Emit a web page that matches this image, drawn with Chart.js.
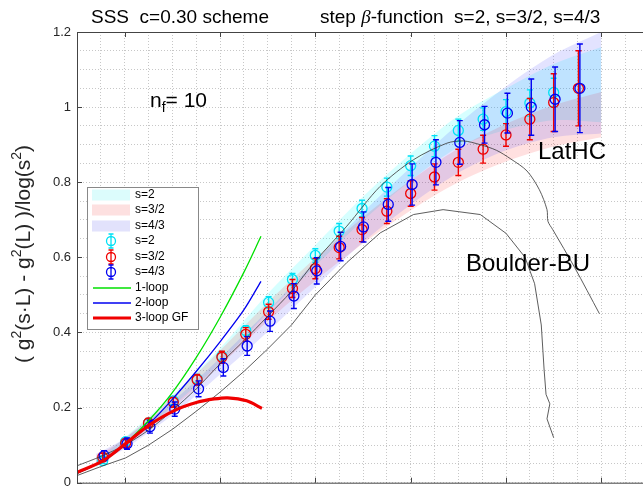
<!DOCTYPE html>
<html lang="en">
<head>
<meta charset="utf-8">
<title>SSS step beta-function</title>
<script src="https://cdn.jsdelivr.net/npm/chart.js@4/dist/chart.umd.min.js"></script>
<style>
  body { margin: 0; overflow: hidden; background: #fff; }
  #wrap { position: absolute; left: 0; top: 0; width: 660px; height: 489px; }
</style>
</head>
<body>
<div id="wrap"><canvas id="stepChart" width="660" height="489"></canvas></div>

<script>
  // g^2(L) where the step function was measured
  var gsqL   = [0.77, 1.01, 1.25, 1.51, 1.76, 2.02, 2.27, 2.51, 2.76, 3.0, 3.25, 3.49, 3.75, 4.0, 4.25, 4.5, 4.76, 5.0, 5.25, 5.5, 5.76];
  var gsqL43 = [0.785, 1.025, 1.265, 1.525, 1.775, 2.035, 2.285, 2.525, 2.775, 3.015, 3.265, 3.505, 3.765, 4.015, 4.265, 4.515, 4.775, 5.015, 5.265, 5.515, 5.775];

  // step beta-function, s=2 / s=3/2 / s=4/3, with errors
  var stepS2  = [0.059, 0.109, 0.159, 0.218, 0.276, 0.337, 0.405, 0.48, 0.541, 0.605, 0.67, 0.73, 0.787, 0.844, 0.896, 0.938, 0.968, 0.988, 1.011, 1.039];
  var errS2   = [0.008, 0.008, 0.009, 0.01, 0.011, 0.012, 0.013, 0.015, 0.016, 0.018, 0.02, 0.022, 0.024, 0.026, 0.028, 0.03, 0.03, 0.032, 0.035, 0.038];
  var stepS32 = [0.068, 0.105, 0.159, 0.214, 0.274, 0.334, 0.395, 0.455, 0.517, 0.57, 0.626, 0.674, 0.723, 0.77, 0.814, 0.853, 0.888, 0.926, 0.968, 1.012, 1.05];
  var errS32  = [0.01, 0.011, 0.012, 0.013, 0.014, 0.016, 0.018, 0.02, 0.024, 0.027, 0.03, 0.032, 0.033, 0.034, 0.035, 0.035, 0.037, 0.03, 0.055, 0.077, 0.1];
  var stepS43 = [0.072, 0.104, 0.149, 0.196, 0.25, 0.307, 0.364, 0.43, 0.497, 0.564, 0.629, 0.681, 0.741, 0.794, 0.853, 0.906, 0.953, 0.984, 1.0, 1.021, 1.05];
  var errS43  = [0.013, 0.015, 0.017, 0.019, 0.021, 0.023, 0.025, 0.027, 0.033, 0.035, 0.038, 0.04, 0.045, 0.055, 0.06, 0.058, 0.049, 0.053, 0.075, 0.086, 0.118];

  // LatHC fit bands
  var bandX     = [0.7, 1.0, 1.5, 2.0, 2.5, 3.0, 3.5, 4.0, 4.5, 5.0, 5.5, 6.0];
  var bandS2Lo  = [0.04, 0.096, 0.203, 0.318, 0.453, 0.577, 0.698, 0.804, 0.893, 0.94, 0.965, 0.96];
  var bandS2Hi  = [0.06, 0.12, 0.233, 0.358, 0.503, 0.633, 0.762, 0.876, 0.977, 1.05, 1.115, 1.16];
  var bandS32Lo = [0.05, 0.094, 0.197, 0.312, 0.43, 0.538, 0.637, 0.725, 0.8, 0.855, 0.895, 0.92];
  var bandS32Hi = [0.07, 0.118, 0.229, 0.352, 0.48, 0.598, 0.707, 0.805, 0.89, 0.955, 1.005, 1.04];
  var bandS43Lo = [0.053, 0.09, 0.18, 0.288, 0.402, 0.521, 0.64, 0.74, 0.825, 0.885, 0.92, 0.93];
  var bandS43Hi = [0.077, 0.118, 0.216, 0.332, 0.458, 0.589, 0.72, 0.84, 0.955, 1.055, 1.14, 1.2];

  // perturbative curves
  var loop1X = [0.5, 0.75, 1.0, 1.25, 1.5, 1.75, 2.0, 2.25, 2.43];
  var loop1Y = [0.025, 0.056, 0.103, 0.165, 0.24, 0.333, 0.44, 0.56, 0.656];
  var loop2X = [0.5, 0.75, 1.0, 1.25, 1.5, 1.75, 2.0, 2.25, 2.43];
  var loop2Y = [0.025, 0.055, 0.1, 0.155, 0.222, 0.296, 0.375, 0.46, 0.536];
  var loop3X = [0.5, 0.77, 1.01, 1.25, 1.52, 1.76, 1.94, 2.08, 2.28, 2.44];
  var loop3Y = [0.027, 0.058, 0.104, 0.152, 0.192, 0.214, 0.223, 0.226, 0.218, 0.198];

  // Boulder-BU curves
  var bouUpX = [0.5, 0.75, 1.0, 1.25, 1.5, 1.75, 2.0, 2.25, 2.5, 2.75, 3.0, 3.33, 3.68, 4.03, 4.38, 4.55, 4.73, 4.9, 5.05, 5.22, 5.35, 5.43, 5.44, 5.49, 5.72, 5.98];
  var bouUpY = [0.045, 0.07, 0.1, 0.14, 0.192, 0.25, 0.316, 0.378, 0.443, 0.51, 0.59, 0.683, 0.789, 0.86, 0.904, 0.91, 0.9, 0.885, 0.862, 0.83, 0.78, 0.727, 0.696, 0.674, 0.573, 0.45];
  var bouLoX = [0.5, 0.75, 1.01, 1.25, 1.5, 1.75, 2.0, 2.25, 2.5, 2.75, 3.0, 3.33, 3.68, 4.03, 4.34, 4.73, 5.0, 5.2, 5.3, 5.37, 5.4, 5.42, 5.46, 5.43, 5.5];
  var bouLoY = [0.019, 0.043, 0.066, 0.1, 0.142, 0.19, 0.241, 0.296, 0.356, 0.42, 0.5, 0.586, 0.665, 0.714, 0.727, 0.714, 0.664, 0.6, 0.53, 0.42, 0.3, 0.235, 0.21, 0.17, 0.12];

  // axes
  var yTickVals   = [0, 0.2, 0.4, 0.6, 0.8, 1, 1.2];
  var yTickLabels = ['0', '0.2', '0.4', '0.6', '0.8', '1', '1.2'];
  var xMajorTicks = [1, 2, 3, 4, 5, 6];

  var legendLabels = ['s=2', 's=3/2', 's=4/3', 's=2', 's=3/2', 's=4/3', '1-loop', '2-loop', '3-loop GF'];

  var cCyan = 'rgb(0,225,245)';
  var cRed = 'rgb(240,0,0)';
  var cBlue = 'rgb(0,0,240)';

  function pts(xs, ys) {
    return ys.map(function(y, i) { return { x: xs[i], y: y }; });
  }

  function band(lo, hi, fillCol, ord) {
    return [
      { data: pts(bandX, hi), fill: '+1', backgroundColor: fillCol, borderWidth: 0, pointRadius: 0, tension: 0.3, order: ord },
      { data: pts(bandX, lo), fill: false, borderWidth: 0, pointRadius: 0, tension: 0.3, order: ord }
    ];
  }

  function points(xs, ys, errs, col, ord) {
    return { data: pts(xs, ys), errs: errs, showLine: false, borderColor: col, backgroundColor: 'rgba(0,0,0,0)',
             pointRadius: 5, pointBorderWidth: 1.3, pointHoverRadius: 5, order: ord };
  }

  function curve(xs, ys, col, w, t, ord) {
    return { data: pts(xs, ys), borderColor: col, borderWidth: w, pointRadius: 0, tension: t, fill: false, order: ord };
  }

  var datasets = []
    .concat(band(bandS2Lo, bandS2Hi, 'rgba(0,255,255,0.16)', 30))
    .concat(band(bandS32Lo, bandS32Hi, 'rgba(255,0,0,0.12)', 29))
    .concat(band(bandS43Lo, bandS43Hi, 'rgba(0,0,255,0.11)', 28))
    .concat([
      points(gsqL, stepS2, errS2, cCyan, 9),
      points(gsqL, stepS32, errS32, cRed, 8),
      points(gsqL43, stepS43, errS43, cBlue, 7),
      curve(bouUpX, bouUpY, '#333', 0.8, 0.3, 5),
      curve(bouLoX, bouLoY, '#333', 0.8, 0, 4),
      curve(loop1X, loop1Y, '#00e000', 1.3, 0.3, 3),
      curve(loop2X, loop2Y, '#0000f0', 1.3, 0.3, 2),
      curve(loop3X, loop3Y, '#f00000', 3.2, 0.3, 1)
    ]);

  // error bars drawn right after each point set
  var errorBars = {
    id: 'errorBars',
    afterDatasetDraw: function(chart, args) {
      var ds = chart.data.datasets[args.index];
      if (!ds.errs) return;
      var ctx = chart.ctx, ys = chart.scales.y;
      ctx.save();
      ctx.strokeStyle = ds.borderColor;
      ctx.lineWidth = 1.4;
      args.meta.data.forEach(function(pt, i) {
        var v = ds.data[i].y, e = ds.errs[i];
        var top = ys.getPixelForValue(v + e), bot = ys.getPixelForValue(v - e);
        ctx.beginPath();
        ctx.moveTo(pt.x, top); ctx.lineTo(pt.x, bot);
        ctx.moveTo(pt.x - 3, top); ctx.lineTo(pt.x + 3, top);
        ctx.moveTo(pt.x - 3, bot); ctx.lineTo(pt.x + 3, bot);
        ctx.stroke();
      });
      ctx.restore();
    }
  };

  // text made of pieces with raised/lowered parts
  function richText(ctx, parts, x, y) {
    parts.forEach(function(p) {
      ctx.font = p.font;
      ctx.fillText(p.t, x, y + (p.dy || 0));
      x += ctx.measureText(p.t).width;
    });
    return x;
  }
  function richWidth(ctx, parts) {
    var w = 0;
    parts.forEach(function(p) { ctx.font = p.font; w += ctx.measureText(p.t).width; });
    return w;
  }

  var decorations = {
    id: 'decorations',
    afterDraw: function(chart) {
      var ctx = chart.ctx, a = chart.chartArea;
      var xs = chart.scales.x, ys = chart.scales.y;
      var font = '"Liberation Sans", Arial, sans-serif';
      ctx.save();

      // axes frame and ticks
      ctx.strokeStyle = '#444';
      ctx.lineWidth = 1;
      ctx.beginPath();
      ctx.moveTo(a.left + 0.5, a.top + 0.5); ctx.lineTo(a.left + 0.5, a.bottom + 0.5);
      ctx.lineTo(a.right, a.bottom + 0.5);
      ctx.moveTo(a.left, a.top + 0.5); ctx.lineTo(a.right, a.top + 0.5);
      xMajorTicks.forEach(function(v) {
        var px = Math.round(xs.getPixelForValue(v)) + 0.5;
        ctx.moveTo(px, a.bottom); ctx.lineTo(px, a.bottom - 5);
        ctx.moveTo(px, a.top); ctx.lineTo(px, a.top + 5);
      });
      yTickVals.forEach(function(v) {
        var py = Math.round(ys.getPixelForValue(v)) + 0.5;
        ctx.moveTo(a.left, py); ctx.lineTo(a.left + 5, py);
      });
      ctx.stroke();

      // y tick labels
      ctx.fillStyle = '#262626';
      ctx.font = '13px ' + font;
      ctx.textAlign = 'right';
      ctx.textBaseline = 'middle';
      yTickVals.forEach(function(v, i) {
        ctx.fillText(yTickLabels[i], a.left - 6, ys.getPixelForValue(v));
      });

      // y axis title
      ctx.textAlign = 'left';
      ctx.textBaseline = 'alphabetic';
      var big = '21px ' + font, sup = '14px ' + font;
      var ylab = [
        { t: '( g', font: big }, { t: '2', font: sup, dy: -9 },
        { t: '(s\u00b7L) - g', font: big }, { t: '2', font: sup, dy: -9 },
        { t: '(L) )/log(s', font: big }, { t: '2', font: sup, dy: -9 },
        { t: ')', font: big }
      ];
      ctx.save();
      ctx.translate(30, 254);
      ctx.rotate(-Math.PI / 2);
      richText(ctx, ylab, -richWidth(ctx, ylab) / 2, 0);
      ctx.restore();

      // title
      ctx.fillStyle = '#000';
      var tf = '19px ' + font;
      richText(ctx, [{ t: 'SSS  c=0.30 scheme', font: tf }], 91, 23);
      richText(ctx, [
        { t: 'step ', font: tf },
        { t: '\u03b2', font: 'italic 19px "Liberation Serif", serif' },
        { t: '-function  s=2, s=3/2, s=4/3', font: tf }
      ], 320, 23);

      // annotations
      richText(ctx, [
        { t: 'n', font: '21px ' + font },
        { t: 'f', font: '14px ' + font, dy: 5 },
        { t: '= 10', font: '21px ' + font }
      ], 150, 107);
      ctx.font = '24px ' + font;
      ctx.fillText('LatHC', 538, 159);
      ctx.fillText('Boulder-BU', 466, 271);

      // legend
      var lx = 87, ly = 187, lw = 111, lh = 142;
      ctx.fillStyle = '#fff';
      ctx.fillRect(lx, ly, lw, lh);
      ctx.strokeStyle = '#888';
      ctx.strokeRect(lx + 0.5, ly + 0.5, lw, lh);
      var rows = [195, 210, 226, 241, 257, 272, 288, 303, 318];
      var patchCols = ['#dcfcfc', '#fde0e0', '#e2e2fc'];
      var markCols = [cCyan, cRed, cBlue];
      var lineCols = ['#00e000', '#0000f0', '#f00000'];
      var lineW = [1.3, 1.3, 3.2];
      rows.forEach(function(ry, i) {
        if (i < 3) {
          ctx.fillStyle = patchCols[i];
          ctx.fillRect(92, ry - 5.5, 38, 11);
        } else if (i < 6) {
          ctx.strokeStyle = markCols[i - 3];
          ctx.lineWidth = 1.3;
          ctx.beginPath();
          ctx.arc(111, ry, 4.5, 0, Math.PI * 2);
          ctx.moveTo(111, ry - 7); ctx.lineTo(111, ry + 7);
          ctx.moveTo(108.5, ry - 7); ctx.lineTo(113.5, ry - 7);
          ctx.moveTo(108.5, ry + 7); ctx.lineTo(113.5, ry + 7);
          ctx.stroke();
        } else {
          ctx.strokeStyle = lineCols[i - 6];
          ctx.lineWidth = lineW[i - 6];
          ctx.beginPath();
          ctx.moveTo(93, ry); ctx.lineTo(131, ry);
          ctx.stroke();
        }
        ctx.fillStyle = '#000';
        ctx.font = '12px ' + font;
        ctx.textBaseline = 'middle';
        ctx.fillText(legendLabels[i], 135, ry);
        ctx.textBaseline = 'alphabetic';
      });

      ctx.restore();
    }
  };

  var gridDash = { display: false, dash: [1, 2] };

  new Chart(document.getElementById('stepChart'), {
    type: 'line',
    data: { datasets: datasets },
    options: {
      responsive: false,
      animation: false,
      events: [],
      layout: { padding: { left: 0, right: 11, top: 32, bottom: 5 } },
      plugins: { legend: { display: false }, tooltip: { enabled: false } },
      scales: {
        x: {
          type: 'linear', min: 0.5, max: 6.5,
          ticks: { display: false, stepSize: 0.25 },
          grid: { color: 'rgba(0,0,0,0.22)', lineWidth: 1, drawTicks: false },
          border: gridDash,
          afterFit: function(s) { s.height = 0; }
        },
        y: {
          type: 'linear', min: 0, max: 1.2,
          ticks: { display: false, stepSize: 0.05 },
          grid: { color: 'rgba(0,0,0,0.22)', lineWidth: 1, drawTicks: false },
          border: gridDash,
          afterFit: function(s) { s.width = 77; }
        }
      }
    },
    plugins: [errorBars, decorations]
  });
</script>
</body>
</html>
